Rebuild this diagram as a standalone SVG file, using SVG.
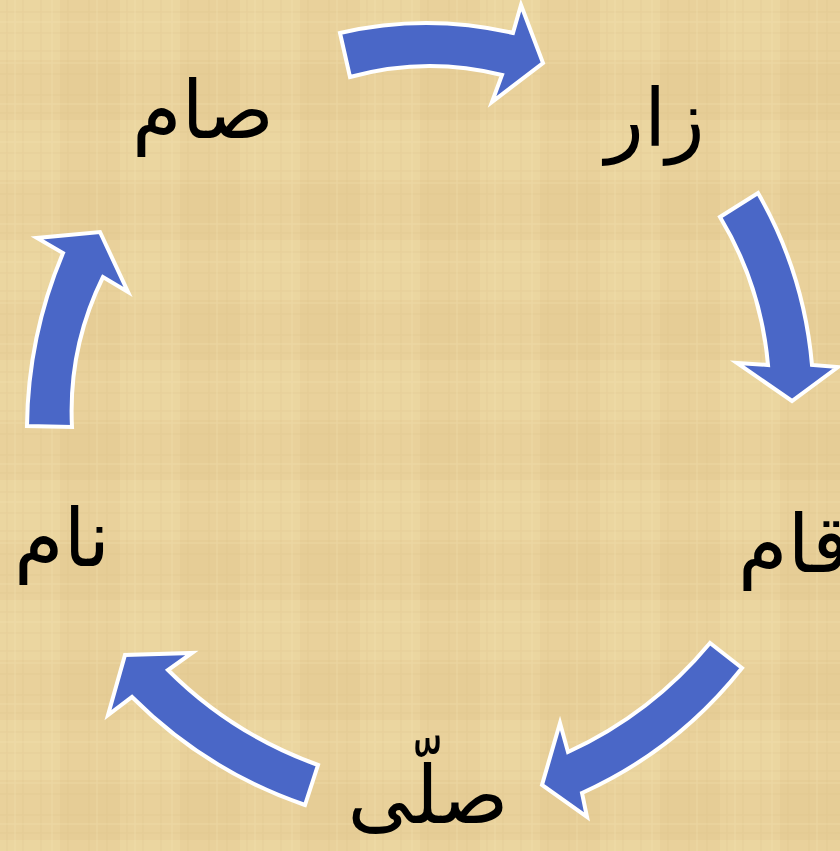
<svg xmlns="http://www.w3.org/2000/svg" width="840" height="851" viewBox="0 0 840 851">
<defs>
<pattern id="pap" width="120" height="120" patternUnits="userSpaceOnUse">
<rect width="120" height="120" fill="#E9D19B"/>
<rect x="0" y="0" width="60" height="60" fill="#EDD8A4" opacity="0.6"/>
<rect x="60" y="60" width="60" height="60" fill="#E4CA92" opacity="0.5"/>
<g stroke="#D9BE85" stroke-width="1" opacity="0.3">
<line x1="7" y1="0" x2="7" y2="120"/><line x1="23" y1="0" x2="23" y2="120"/><line x1="41" y1="0" x2="41" y2="120"/><line x1="68" y1="0" x2="68" y2="120"/><line x1="89" y1="0" x2="89" y2="120"/><line x1="107" y1="0" x2="107" y2="120"/>
<line x1="0" y1="12" x2="120" y2="12"/><line x1="0" y1="33" x2="120" y2="33"/><line x1="0" y1="51" x2="120" y2="51"/><line x1="0" y1="74" x2="120" y2="74"/><line x1="0" y1="95" x2="120" y2="95"/><line x1="0" y1="113" x2="120" y2="113"/>
</g>
<g stroke="#F4E2B4" stroke-width="1" opacity="0.4">
<line x1="15" y1="0" x2="15" y2="120"/><line x1="52" y1="0" x2="52" y2="120"/><line x1="97" y1="0" x2="97" y2="120"/>
<line x1="0" y1="22" x2="120" y2="22"/><line x1="0" y1="63" x2="120" y2="63"/><line x1="0" y1="104" x2="120" y2="104"/>
</g>
</pattern>
<style>
.arr{fill:#4A67C7;stroke:#FFFFFF;stroke-width:4;stroke-linejoin:miter}
.lbl{font-family:"DejaVu Sans","Noto Sans",sans-serif;font-size:80px;fill:#000000;text-anchor:middle}
</style>
</defs>
<rect width="840" height="851" fill="url(#pap)"/>
<g id="connectors">
<path class="arr" d="M340,33 Q426,13 513,33 L521,5 L543,63 L492,102 L502,75 Q426,56 350,77 Z"/>
<path class="arr" d="M758,193 Q804,273 812,365 L838,367 L792,401 L737,363 L768,365 Q761,285 720,217 Z"/>
<path class="arr" d="M742,668 Q677,750 582,793 L587,817 L542,785 L560,723 L568,752 Q651,714 710,643 Z"/>
<path class="arr" d="M305,805 Q206,771 132,697 L108,715 L125,655 L192,653 L168,670 Q232,734 318,765 Z"/>
<path class="arr" d="M27,426 Q28,336 63,253 L37,238 L100,232 L128,292 L103,277 Q68,348 72,427 Z"/>
</g>
<g id="n1"><text class="lbl" x="655" y="146">زار</text></g>
<g id="n2"><text class="lbl" x="794" y="572">قام</text></g>
<g id="n3"><text class="lbl" x="428" y="823">صلّى</text></g>
<g id="n4"><text class="lbl" x="62" y="566">نام</text></g>
<g id="n5"><text class="lbl" x="203" y="138">صام</text></g>
</svg>
